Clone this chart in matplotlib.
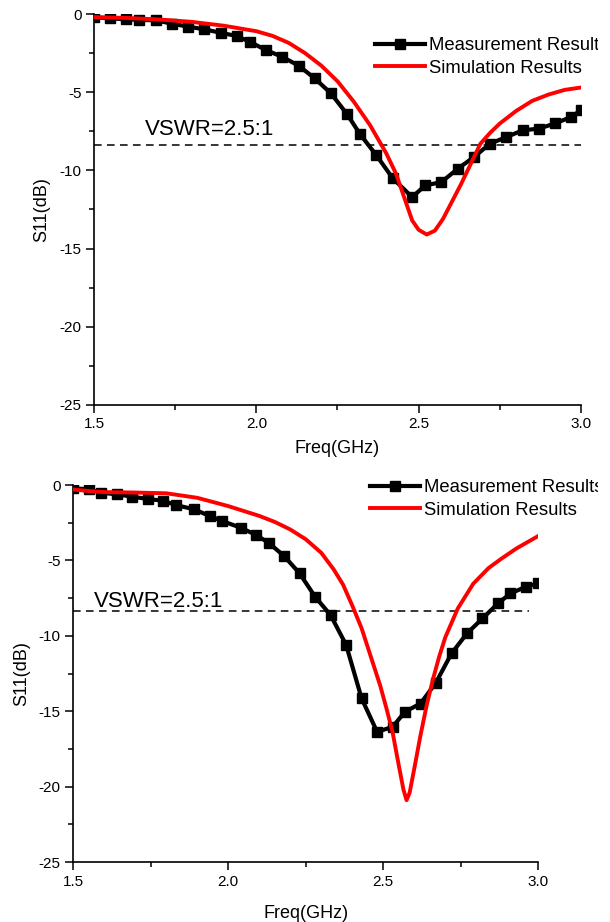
"""S11 comparison, measurement vs simulation — two stacked panels."""
import numpy as np
import matplotlib
matplotlib.use('Agg')
import matplotlib.pyplot as plt
from matplotlib.ticker import MultipleLocator
from matplotlib.patches import Rectangle

plt.rcParams.update({
    'font.family': ['Liberation Sans', 'DejaVu Sans'],
    'axes.unicode_minus': False,
})

# ---- panel (a) ----
f_meas_a = [1.50, 1.55, 1.60, 1.64, 1.69, 1.74, 1.79, 1.84, 1.89, 1.94, 1.98,
            2.03, 2.08, 2.13, 2.18, 2.23, 2.28, 2.32, 2.37, 2.42, 2.48, 2.52,
            2.57, 2.62, 2.67, 2.72, 2.77, 2.82, 2.87, 2.92, 2.97, 3.00]
s11_meas_a = [-0.21, -0.28, -0.34, -0.38, -0.40, -0.62, -0.81, -0.98, -1.20,
              -1.41, -1.78, -2.31, -2.74, -3.30, -4.12, -5.08, -6.42, -7.70,
              -9.04, -10.50, -11.71, -10.96, -10.75, -9.90, -9.15, -8.29,
              -7.87, -7.44, -7.33, -7.00, -6.58, -6.15]
f_sim_a = [1.50, 1.60, 1.70, 1.80, 1.90, 2.00, 2.05, 2.10, 2.15, 2.20, 2.25,
           2.30, 2.35, 2.40, 2.43, 2.46, 2.48, 2.50, 2.525, 2.55, 2.575, 2.60,
           2.63, 2.66, 2.69, 2.72, 2.75, 2.80, 2.85, 2.90, 2.95, 3.00]
s11_sim_a = [-0.20, -0.25, -0.35, -0.50, -0.75, -1.10, -1.40, -1.85, -2.50,
             -3.30, -4.30, -5.60, -7.10, -8.90, -10.20, -12.00, -13.20,
             -13.80, -14.10, -13.85, -13.10, -12.10, -10.90, -9.60, -8.30,
             -7.60, -7.00, -6.20, -5.55, -5.15, -4.85, -4.70]

# ---- panel (b) ----
f_meas_b = [1.50, 1.55, 1.59, 1.64, 1.69, 1.74, 1.79, 1.83, 1.89, 1.94, 1.98,
            2.04, 2.09, 2.13, 2.18, 2.23, 2.28, 2.33, 2.38, 2.43, 2.48, 2.53,
            2.57, 2.62, 2.67, 2.72, 2.77, 2.82, 2.87, 2.91, 2.96, 3.00]
s11_meas_b = [-0.22, -0.28, -0.51, -0.62, -0.77, -0.93, -1.04, -1.33, -1.61,
              -2.06, -2.39, -2.83, -3.32, -3.83, -4.71, -5.86, -7.41, -8.63,
              -10.60, -14.15, -16.37, -16.04, -15.04, -14.49, -13.10, -11.17,
              -9.84, -8.85, -7.85, -7.19, -6.75, -6.52]
f_sim_b = [1.50, 1.55, 1.60, 1.70, 1.80, 1.90, 2.00, 2.10, 2.15, 2.20, 2.25,
           2.30, 2.34, 2.37, 2.40, 2.43, 2.46, 2.49, 2.51, 2.53, 2.55, 2.565,
           2.575, 2.585, 2.60, 2.62, 2.64, 2.66, 2.68, 2.70, 2.74, 2.79, 2.84,
           2.88, 2.93, 3.00]
s11_sim_b = [-0.30, -0.40, -0.47, -0.50, -0.55, -0.85, -1.40, -2.05, -2.45,
             -2.95, -3.60, -4.50, -5.60, -6.60, -8.00, -9.50, -11.40, -13.30,
             -14.80, -16.40, -18.60, -20.20, -20.90, -20.40, -18.80, -16.60,
             -14.60, -12.90, -11.40, -10.10, -8.20, -6.55, -5.50, -4.90, -4.20,
             -3.38]

VSWR_DB = -8.35
XTICKS = [1.5, 2.0, 2.5, 3.0]
YTICKS = [0, -5, -10, -15, -20, -25]

W, H = 610, 922
fig = plt.figure(figsize=(W / 100, H / 100), dpi=100)


def px_axes(x0, x1, y0, y1):
    # pixel box -> figure fraction
    return fig.add_axes([x0 / W, 1 - y1 / H, (x1 - x0) / W, (y1 - y0) / H])


def panel(ax, fm, sm, fs, ss, dash_end, vswr_xy, leg_xy, ylab_pad, xlab_pad):
    ax.plot(fm, sm, color='black', lw=3.0, marker='s', ms=7,
            label='Measurement Results', zorder=3)
    ax.plot(fs, ss, color='#ff0000', lw=2.8, label='Simulation Results',
            zorder=4, solid_joinstyle='round')
    ax.plot([1.5, dash_end], [VSWR_DB, VSWR_DB], color='black', lw=1.1,
            ls=(0, (5, 3.5)), zorder=2)
    ax.text(vswr_xy[0], vswr_xy[1], 'VSWR=2.5:1', fontsize=16,
            ha='left', va='baseline')
    ax.set_xlim(1.5, 3.0)
    ax.set_ylim(-25, 0)
    ax.set_xticks(XTICKS)
    ax.set_xticklabels([f'{v:.1f}' for v in XTICKS])
    ax.set_yticks(YTICKS)
    ax.set_yticklabels([str(v) for v in YTICKS])
    ax.xaxis.set_minor_locator(MultipleLocator(0.25))
    ax.yaxis.set_minor_locator(MultipleLocator(2.5))
    ax.tick_params(which='major', direction='out', length=6, width=1.1,
                   labelsize=11, pad=3)
    ax.tick_params(which='minor', direction='out', length=3.5, width=1.1)
    for s in ['top', 'right']:
        ax.spines[s].set_visible(False)
    for s in ['left', 'bottom']:
        ax.spines[s].set_linewidth(1.2)
    ax.set_xlabel('Freq(GHz)', fontsize=13, labelpad=xlab_pad)
    ax.set_ylabel('S11(dB)', fontsize=13, labelpad=ylab_pad)
    ax.legend(loc='upper left', bbox_to_anchor=(leg_xy[0] / W, 1 - leg_xy[1] / H),
              bbox_transform=fig.transFigure, frameon=False, fontsize=13.3,
              handlelength=2.7, handletextpad=0.2, labelspacing=0.3,
              borderpad=0, borderaxespad=0, numpoints=1)


ax1 = px_axes(94, 581, 14, 405)
panel(ax1, f_meas_a, s11_meas_a, f_sim_a, s11_sim_a, 3.0,
      (1.657, -7.76), (375, 37), 7, 6)

ax2 = px_axes(73.3, 538.3, 485, 862)
panel(ax2, f_meas_b, s11_meas_b, f_sim_b, s11_sim_b, 2.97,
      (1.565, -8.07), (370, 479), 6, 12)

# the source picture is cut off just right of x=598 px
fig.patches.append(Rectangle((598 / W, 0), 1, 1, transform=fig.transFigure,
                             facecolor='white', edgecolor='none', zorder=10))

fig.savefig('out.png', dpi=100)
